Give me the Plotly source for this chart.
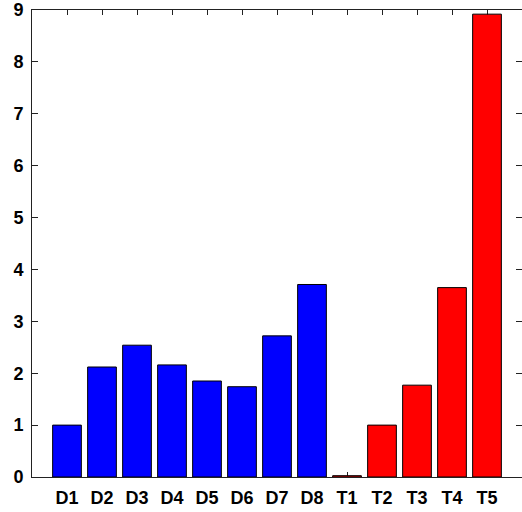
import plotly.graph_objects as go

# Samples and their measured values
d_labels = ["D1", "D2", "D3", "D4", "D5", "D6", "D7", "D8"]
d_values = [1.0, 2.12, 2.54, 2.16, 1.85, 1.74, 2.72, 3.71]
t_labels = ["T1", "T2", "T3", "T4", "T5"]
t_values = [0.025, 1.0, 1.77, 3.65, 8.92]

d_color = "#0000FF"
t_color = "#FF0000"

labels = d_labels + t_labels
values = d_values + t_values
colors = [d_color] * len(d_labels) + [t_color] * len(t_labels)

axis_color = "#222222"
font = dict(family="Liberation Sans, Arial, sans-serif", size=18,
            color="black", weight="bold")

fig = go.Figure()
fig.add_trace(go.Bar(
    x=labels, y=values,
    marker=dict(color=colors, line=dict(color="black", width=1)),
    width=0.82,
    hoverinfo="x+y",
))
# invisible copy on the right-hand axis so its ticks are drawn
fig.add_trace(go.Scatter(
    x=labels, y=values, yaxis="y2", mode="markers",
    marker=dict(opacity=0), hoverinfo="skip", showlegend=False,
))

fig.update_layout(
    width=522, height=512,
    margin=dict(l=32, r=0, t=10, b=35),
    paper_bgcolor="white", plot_bgcolor="white",
    showlegend=False,
    font=font,
    xaxis=dict(
        type="category", range=[-1, 13],
        showline=True, linecolor=axis_color, linewidth=1, mirror="ticks",
        ticks="inside", ticklen=5, tickcolor=axis_color, tickwidth=1,
        showgrid=False, zeroline=False, layer="below traces",
        tickfont=font, ticklabelstandoff=4,
    ),
    yaxis=dict(
        range=[0, 9], dtick=1,
        showline=True, linecolor=axis_color, linewidth=1, mirror=False,
        ticks="inside", ticklen=6, tickcolor=axis_color, tickwidth=1,
        showgrid=False, zeroline=False, layer="below traces",
        tickfont=font, ticklabelstandoff=4, ticklabeloverflow="allow",
    ),
    yaxis2=dict(
        range=[0, 9], dtick=1, overlaying="y", side="right",
        showline=False, ticks="inside", ticklen=6, tickcolor=axis_color,
        tickwidth=1, showticklabels=False, showgrid=False, zeroline=False,
    ),
)

fig.write_html("out.html")
